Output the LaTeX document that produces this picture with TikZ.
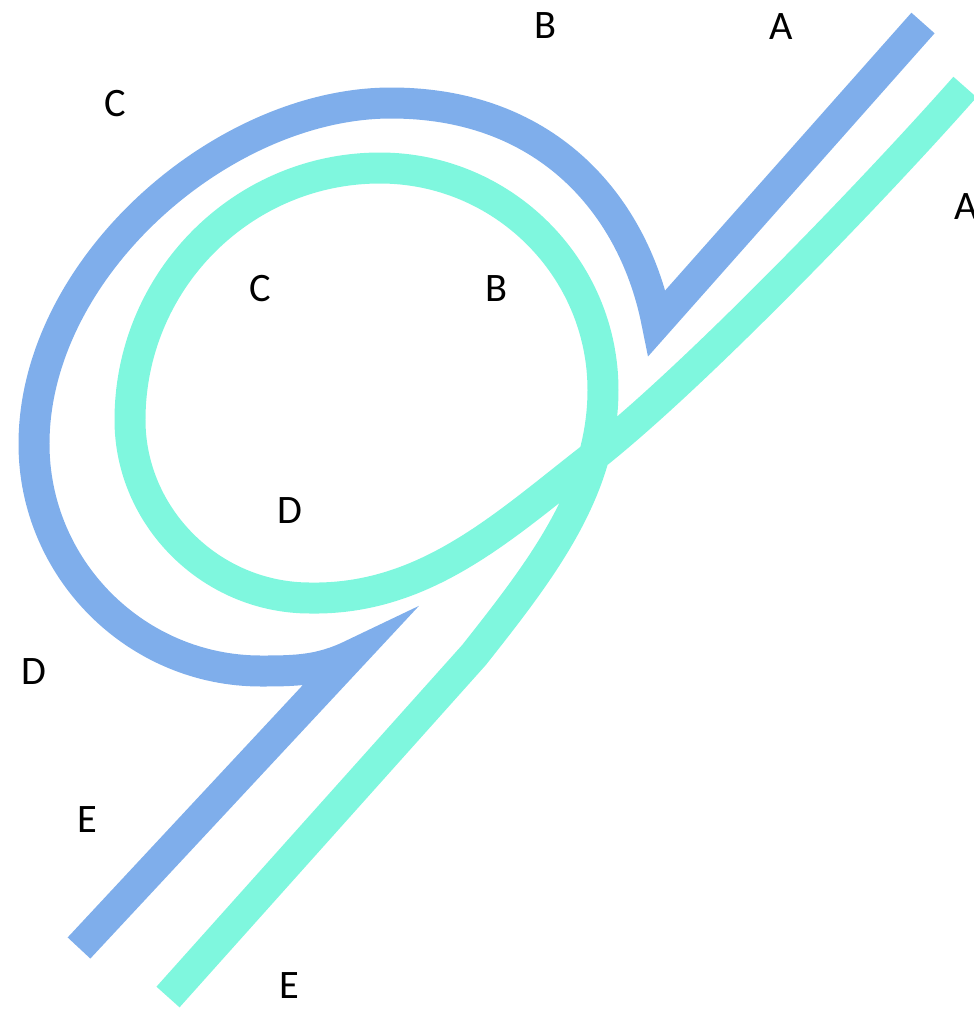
\documentclass[tikz,border=0pt]{standalone}
\usepackage{fontspec}
\setmainfont{Carlito}
\definecolor{bandblue}{HTML}{7FAEEB}
\definecolor{bandaqua}{HTML}{7FF7DE}

\begin{document}
\begin{tikzpicture}[
        x=0.02cm, y=-0.02cm,
        band/.style={line width=0.62cm, line join=miter, miter limit=10},
        letter/.style={font=\fontsize{23}{27}\selectfont, inner sep=0pt}
    ]
        \useasboundingbox (0,0) rectangle (974,1009);

        % outer (blue) strand
        \coordinate (b1) at (923,23);
        \coordinate (b2) at (657,323);
        \coordinate (b3) at (391,103);
        \coordinate (b4) at (34,444);
        \coordinate (b5) at (261,671);
        \coordinate (b6) at (352,655);
        \coordinate (b7) at (79,948);
        \draw[band, bandblue] (b1) -- (b2)
            .. controls (635,210) and (551,103) .. (b3)
            .. controls (222,103) and (34,268) .. (b4)
            .. controls (34,569) and (136,671) .. (b5)
            .. controls (296,671) and (320.5,670.4) .. (b6)
            -- (b7);

        % inner (aqua) strand
        \coordinate (a1) at (965,87);
        \coordinate (a2) at (590,459);
        \coordinate (a3) at (310,598);
        \coordinate (a4) at (130,420);
        \coordinate (a5) at (380,168);
        \coordinate (a6) at (603,390);
        \coordinate (a7) at (474,655);
        \coordinate (a8) at (168,997);
        \draw[band, bandaqua] (a1)
            .. controls (879,184.5) and (692.7,379) .. (a2)
            .. controls (503.1,526.7) and (425,600) .. (a3)
            .. controls (211,598) and (130,517) .. (a4)
            .. controls (130,281) and (242,168) .. (a5)
            .. controls (503,168) and (603,268) .. (a6)
            .. controls (603,490) and (542,569) .. (a7)
            -- (a8);

        % labels
        \node[letter] (outB) at (545,26) {B};
        \node[letter] (outA) at (781,27) {A};
        \node[letter] (outC) at (115,104) {C};
        \node[letter] (inA) at (966,207) {A};
        \node[letter] (inC) at (260,289) {C};
        \node[letter] (inB) at (496,289) {B};
        \node[letter] (inD) at (290,511) {D};
        \node[letter] (outD) at (34,672) {D};
        \node[letter] (outE) at (87,820) {E};
        \node[letter] (inE) at (289,986) {E};
    \end{tikzpicture}
\end{document}
